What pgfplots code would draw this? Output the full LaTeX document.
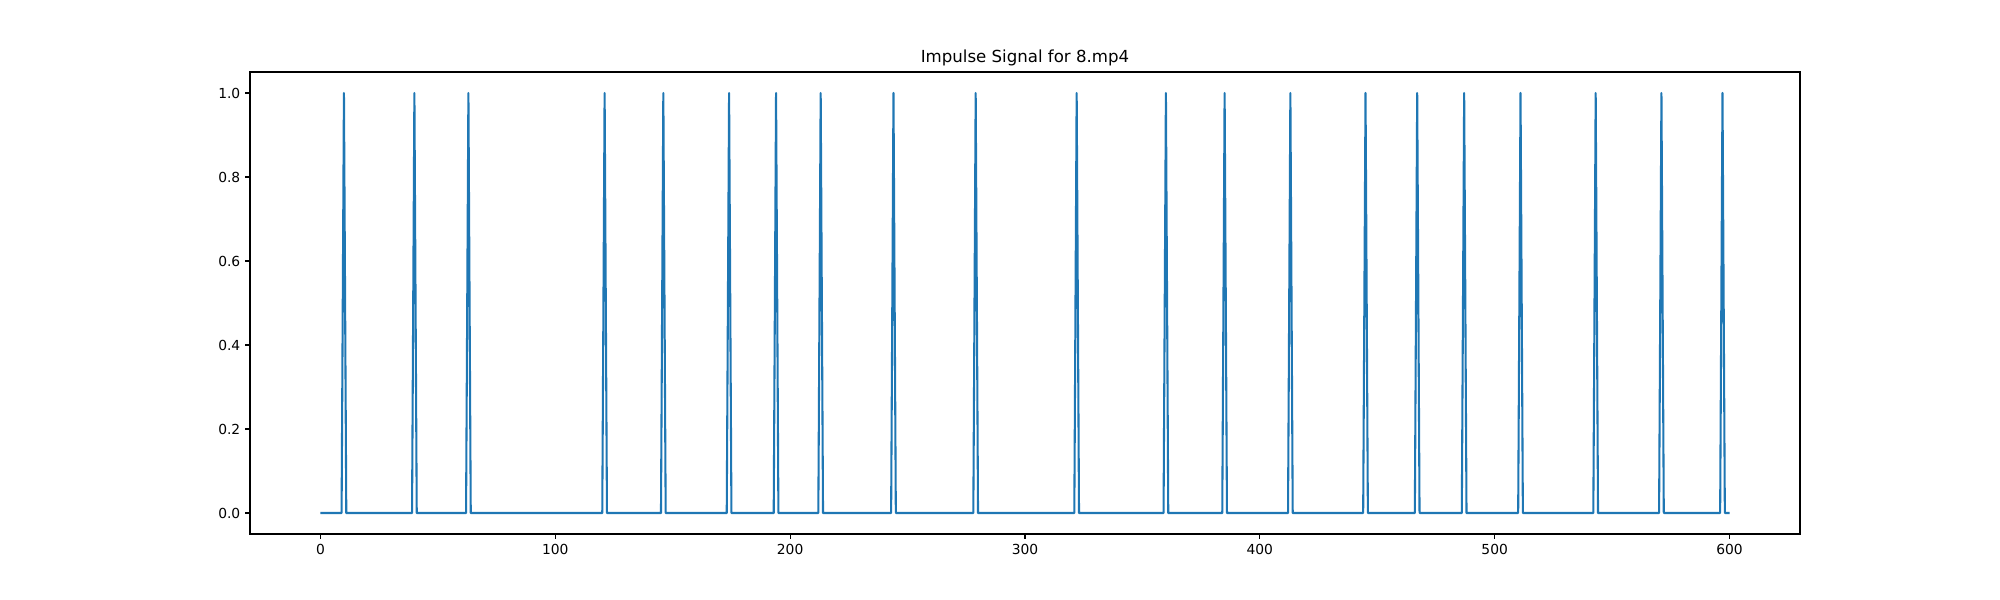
\documentclass[border=0pt]{standalone}
\usepackage{fontspec}
\setmainfont{DejaVu Sans}
\usepackage{pgfplots}
\pgfplotsset{compat=1.18}
\definecolor{c0}{HTML}{1F77B4}
\begin{document}
\begin{tikzpicture}
\begin{axis}[at={(0,0)}, anchor=south west, scale only axis,
  width=15.5in, height=4.62in,
  xmin=-30, xmax=630, ymin=-0.05, ymax=1.05,
  xtick={0,100,200,300,400,500,600},
  ytick={0,0.2,0.4,0.6,0.8,1.0},
  yticklabel style={/pgf/number format/.cd, fixed, fixed zerofill, precision=1},
  /pgf/number format/assume math mode=true,
  tick align=outside, tick pos=left, major tick length=3.5pt,
  axis line style={line width=0.8pt},
  every tick/.style={black, line width=0.8pt},
  tick label style={font=\fontsize{10}{12}\selectfont},
  title={Impulse Signal for 8.mp4},
  title style={font=\fontsize{12}{14}\selectfont, yshift=-5pt},
]
\addplot[c0, line width=1.5pt, line join=round, mark=none] coordinates {
(0,0) (9,0)(10,1)(11,0) (39,0)(40,1)(41,0) (62,0)(63,1)(64,0)
(120,0)(121,1)(122,0) (145,0)(146,1)(147,0) (173,0)(174,1)(175,0)
(193,0)(194,1)(195,0) (212,0)(213,1)(214,0) (243,0)(244,1)(245,0)
(278,0)(279,1)(280,0) (321,0)(322,1)(323,0) (359,0)(360,1)(361,0)
(384,0)(385,1)(386,0) (412,0)(413,1)(414,0) (444,0)(445,1)(446,0)
(466,0)(467,1)(468,0) (486,0)(487,1)(488,0) (510,0)(511,1)(512,0)
(542,0)(543,1)(544,0) (570,0)(571,1)(572,0) (596,0)(597,1)(598,0)
(600,0)
};
\end{axis}
\path[use as bounding box] (-2.5in,-0.66in) rectangle (17.5in,5.34in);
\end{tikzpicture}
\end{document}
